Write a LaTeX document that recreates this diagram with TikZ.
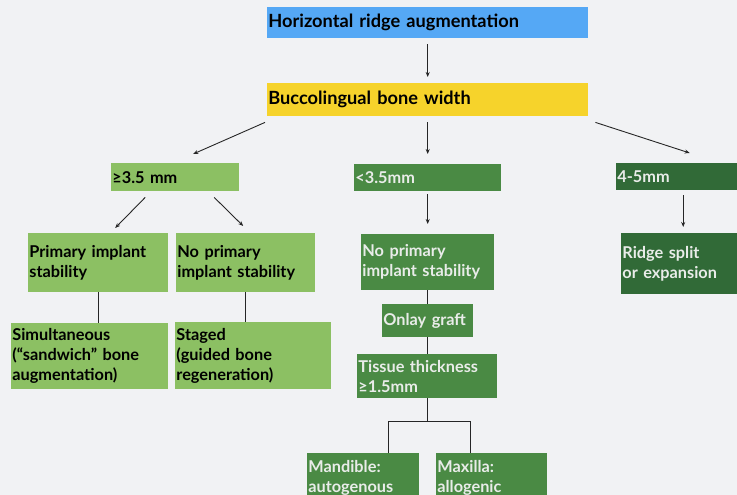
\documentclass[tikz,border=0pt]{standalone}
\usepackage{fontspec}
\setmainfont{Lato}
\usetikzlibrary{arrows.meta}
\definecolor{bgc}{HTML}{F1F2F4}
\definecolor{cblue}{HTML}{55A8F5}
\definecolor{cyel}{HTML}{F6D32B}
\definecolor{clg}{HTML}{8CC063}
\definecolor{cmg}{HTML}{4A8A44}
\definecolor{cdg}{HTML}{316A37}
\definecolor{ctxt}{HTML}{E9ECE9}
\tikzset{
  bx/.style={rectangle, anchor=north west, align=left, inner xsep=1.2pt, inner ysep=0pt,
    font=\fontsize{16.3}{20}\selectfont\bfseries, text=black},
  lg/.style={bx, fill=clg},
  mg/.style={bx, fill=cmg, text=ctxt},
  dg/.style={bx, fill=cdg, text=ctxt},
  arr/.style={draw=black!85, line width=0.9pt, -{Stealth[length=5pt,width=4pt]}},
  ln/.style={draw=black!85, line width=1pt},
}
\begin{document}
\begin{tikzpicture}[x=1pt,y=-1pt]
\fill[bgc] (0,0) rectangle (737,495);
\useasboundingbox (0,0) rectangle (737,495);
% top
\node[bx, fill=cblue, text width=318.6pt, minimum height=31pt, font=\fontsize{18.2}{21}\selectfont\bfseries] (top) at (267,7) {Horizontal ridge augmentation};
\node[bx, fill=cyel, text width=318.6pt, minimum height=33pt, font=\fontsize{18.2}{21}\selectfont\bfseries] (yel) at (267,83) {Buccolingual bone width};
% level 2
\node[lg, text width=125.6pt, minimum height=28pt] (ge) at (111,163) {≥3.5 mm};
\node[mg, text width=144.6pt, minimum height=27pt] (mid) at (354,164) {<3.5mm};
\node[dg, text width=127.6pt, minimum height=27pt] (r1) at (616,163) {4-5mm};
% level 3
\node[lg, text width=137.6pt, minimum height=59pt] (a1) at (28,233) {Primary implant\\stability};
\node[lg, text width=136.6pt, minimum height=59pt] (b1) at (176,233) {No primary\\implant stability};
\node[mg, text width=130.6pt, minimum height=56pt] (c1) at (361,234) {No primary\\implant stability};
\node[dg, text width=127.6pt, minimum height=61pt] (r2) at (621,233) {Ridge split\\or expansion};
% level 4
\node[lg, text width=154.6pt, minimum height=66pt] (a2) at (11,323) {Simultaneous\\(“sandwich” bone\\augmentation)};
\node[lg, text width=153.6pt, minimum height=67pt] (b2) at (175,322) {Staged\\(guided bone\\regeneration)};
\node[mg, text width=88.6pt, minimum height=33pt] (c2) at (382,304) {Onlay graft};
\node[mg, text width=137.6pt, minimum height=44pt] (c3) at (357,354) {Tissue thickness\\≥1.5mm};
\node[mg, text width=109.6pt, minimum height=49pt] (d1) at (307,453) {Mandible:\\autogenous};
\node[mg, text width=108.6pt, minimum height=49pt] (d2) at (436,453) {Maxilla:\\allogenic};
% connectors
\draw[arr, shorten <=6pt, shorten >=6pt] (top.south) -- (yel.north);
\draw[arr] ([shift={(-2,6)}]yel.south west) -- ([shift={(18,-9)}]ge.north);
\draw[arr, shorten <=6pt, shorten >=10pt] (yel.south) -- (mid.north);
\draw[arr] ([shift={(7,6)}]yel.south east) -- ([shift={(8.5,-10)}]r1.north);
\draw[arr] ([shift={(-30,6)}]ge.south) -- ([shift={(17,-5)}]a1.north);
\draw[arr] ([shift={(39,6)}]ge.south) -- ([shift={(-2.5,-7)}]b1.north);
\draw[arr, shorten <=3pt, shorten >=10pt] (mid.south) -- (c1.north);
\draw[arr] ([shift={(2,5)}]r1.south) -- ([shift={(-3,-6)}]r2.north);
\draw[ln] (a1.south) -- (a1.south |- a2.north);
\draw[ln] (b1.south) -- (b1.south |- b2.north);
\draw[ln] (c1.south) -- (c1.south |- c2.north);
\draw[ln] (c2.south) -- (c2.south |- c3.north);
\draw[ln] (c3.south) -- ++(0,23) coordinate (j);
\draw[ln] ([shift={(25,0)}]d1.north) |- (j) -| ([shift={(-21.5,0)}]d2.north);
\fill[cmg] (d1.south west) rectangle ++(110,12);
\fill[cmg] (d2.south west) rectangle ++(111,12);
\end{tikzpicture}
\end{document}
